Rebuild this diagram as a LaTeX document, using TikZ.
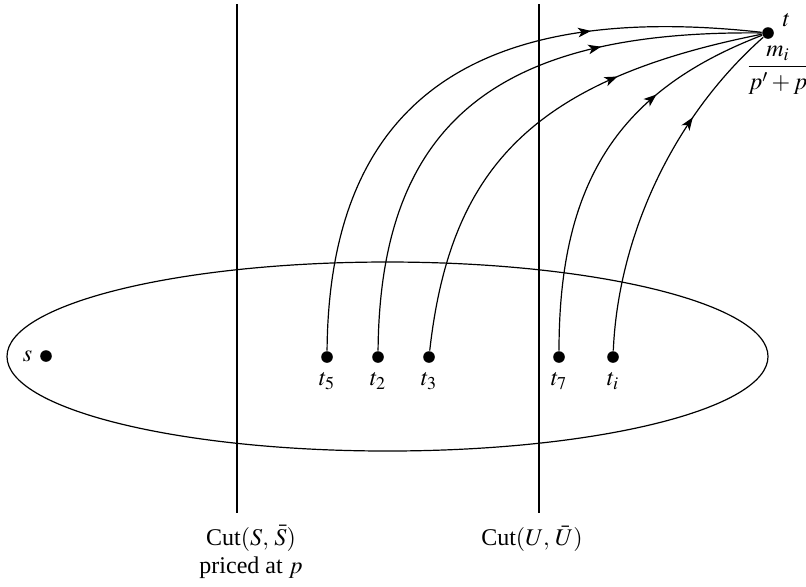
\documentclass[tikz,border=0pt]{standalone}
\usepackage{mathptmx}
\usepackage{fontspec}
\setmainfont{Liberation Serif}
\usepackage{tikz}
\usetikzlibrary{arrows.meta,decorations.markings}

\begin{document}
\begin{tikzpicture}[x=0.5pt,y=-0.5pt,line width=0.6pt,
  font=\fontsize{12}{14.4}\selectfont,
  vtx/.style={circle,fill,inner sep=0pt,minimum size=5.8pt},
  cutlab/.style={anchor=base,inner sep=1pt},
  flow/.style={postaction={decorate},decoration={markings,
    mark=at position #1 with {\arrow{Stealth[length=6.4pt,width=4.8pt,inset=1.7pt]}}}}]
  \useasboundingbox (0,0) rectangle (806,586);
  % network and the two cuts
  \draw (387.5,356.5) ellipse [x radius=380.5, y radius=94.5];
  \draw (237,4) -- (237,513);
  \draw (539,4) -- (539,513);
  \node[cutlab] (cutS) at (251,545) {Cut$(S,\,\bar{S})$};
  \node[cutlab] (price) at (251,573) {priced at $p$};
  \node[cutlab] (cutU) at (532,545) {Cut$(U,\,\bar{U})$};
  % vertices
  \node[vtx] (s) at (46,356) {};
  \node[left=0pt] (slab) at (s.west) {$s$};
  \node[vtx] (t) at (768,33) {};
  \node[anchor=base west,inner sep=1pt] (tlab) at (780,26) {$t$};
  \node[inner sep=0pt] (frac) at (778,70) {$\displaystyle\frac{m_i}{p'+p}$};
  \foreach \nm/\x in {5/327,2/378,3/429,7/559,i/613} {
    \node[vtx] (t\nm) at (\x,357) {};
    \node[below=1pt] (l\nm) at (t\nm.south) {$t_\nm$};
  }
  % flows into t
  \draw[flow=0.73] (t5) .. controls (329,105) and (470,0) .. (t);
  \draw[flow=0.72] (t2) .. controls (380,120) and (500,30) .. (t);
  \draw[flow=0.70] (t3) .. controls (450,170) and (530,80) .. (t);
  \draw[flow=0.70] (t7) .. controls (559,180) and (620,90) .. (t);
  \draw[flow=0.70] (ti) .. controls (618,240) and (670,120) .. (t);
\end{tikzpicture}
\end{document}
